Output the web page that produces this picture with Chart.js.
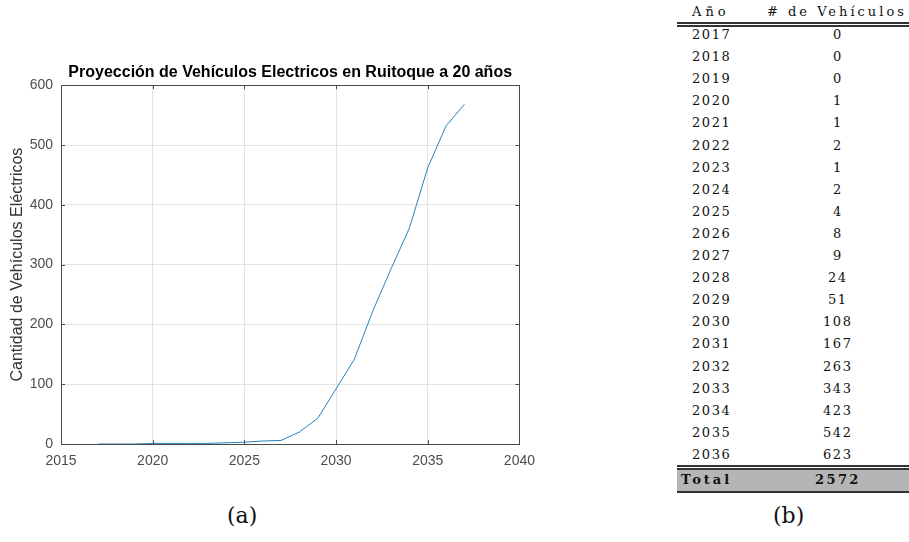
<!DOCTYPE html>
<html>
<head>
<meta charset="utf-8">
<script src="https://cdn.jsdelivr.net/npm/chart.js@4"></script>
<style>
  html, body { margin: 0; padding: 0; background: #fff; width: 909px; height: 542px; overflow: hidden; }
  #wrap { position: absolute; left: 0; top: 0; width: 544px; height: 475px; }
  .cap { position: absolute; font-family: "DejaVu Serif", "Liberation Serif", serif; font-size: 22px; color: #111; }
  .t { position: absolute; font-family: "DejaVu Serif", "Liberation Serif", serif; font-size: 13px; color: #111; letter-spacing: 1.6px; white-space: nowrap; line-height: 16px; }
  .rule { position: absolute; left: 677px; width: 232px; background: #333; }
  #totalbg { position: absolute; left: 677px; width: 232px; top: 468px; height: 23px; background: #b5b5b5; }
</style>
</head>
<body>
<div id="wrap"><canvas id="c" width="544" height="475"></canvas></div>
<div class="cap" style="left:227px; top:503px;">(a)</div>
<div class="cap" style="left:773px; top:503px;">(b)</div>
<div id="totalbg"></div>
<div class="rule" style="top:22px; height:1.5px;"></div>
<div class="rule" style="top:25px; height:1.5px;"></div>
<div class="rule" style="top:465px; height:1.5px;"></div>
<div class="rule" style="top:468px; height:1.5px;"></div>
<div class="rule" style="top:491px; height:1.5px;"></div>
<div id="table"></div>
<script>
// ---- Chart (a): projected electric vehicles ----
const years  = [2017, 2018, 2019, 2020, 2021, 2022, 2023, 2024, 2025, 2026, 2027,
                2028, 2029, 2030, 2031, 2032, 2033, 2034, 2035, 2036, 2037];
const vehicles = [0, 0, 0, 1, 1, 1, 1, 2, 3, 5, 6,
                  20, 43, 92, 142, 222, 293, 361, 462, 532, 568];
const xTicks = [2015, 2020, 2025, 2030, 2035, 2040];
const yTicks = [0, 100, 200, 300, 400, 500, 600];

// ---- Table (b) ----
const tableHeader = ["Año", "# de Vehículos"];
const tableYears  = [2017, 2018, 2019, 2020, 2021, 2022, 2023, 2024, 2025, 2026,
                     2027, 2028, 2029, 2030, 2031, 2032, 2033, 2034, 2035, 2036];
const tableCounts = [0, 0, 0, 1, 1, 2, 1, 2, 4, 8,
                     9, 24, 51, 108, 167, 263, 343, 423, 542, 623];
const totalLabel = "Total";
const totalCount = 2572;

const boxPlugin = {
  id: 'box',
  afterDraw(chart) {
    const a = chart.chartArea, ctx = chart.ctx;
    ctx.save();
    ctx.strokeStyle = '#4a4a4a';
    ctx.lineWidth = 1;
    ctx.strokeRect(Math.round(a.left) + 0.5, Math.round(a.top) + 0.5,
                   Math.round(a.right - a.left), Math.round(a.bottom - a.top));
    // inward tick marks (MATLAB style)
    const xs = chart.scales.x, ys = chart.scales.y;
    ctx.beginPath();
    xTicks.forEach(v => {
      const px = Math.round(xs.getPixelForValue(v)) + 0.5;
      ctx.moveTo(px, a.bottom); ctx.lineTo(px, a.bottom - 4);
      ctx.moveTo(px, a.top); ctx.lineTo(px, a.top + 4);
    });
    yTicks.forEach(v => {
      const py = Math.round(ys.getPixelForValue(v)) + 0.5;
      ctx.moveTo(a.left, py); ctx.lineTo(a.left + 4, py);
      ctx.moveTo(a.right, py); ctx.lineTo(a.right - 4, py);
    });
    ctx.stroke();
    ctx.restore();
  }
};

new Chart(document.getElementById('c'), {
  type: 'line',
  data: {
    datasets: [{
      data: years.map((y, i) => ({ x: y, y: vehicles[i] })),
      borderColor: '#2584bd',
      borderWidth: 1,
      pointRadius: 0,
      tension: 0,
      fill: false
    }]
  },
  options: {
    responsive: false,
    animation: false,
    devicePixelRatio: 1,
    layout: { padding: { left: 0, right: 21, top: 0, bottom: 0 } },
    plugins: {
      legend: { display: false },
      tooltip: { enabled: false },
      title: {
        display: true,
        fullSize: false,
        text: 'Proyección de Vehículos Electricos en Ruitoque a 20 años',
        color: '#000',
        font: { family: 'Liberation Sans, Arial, sans-serif', size: 16, weight: 'bold' },
        padding: { top: 63, bottom: 3 }
      }
    },
    scales: {
      x: {
        type: 'linear',
        min: 2015, max: 2040,
        afterBuildTicks(s) { s.ticks = xTicks.map(v => ({ value: v })); },
        afterFit(s) { s.height = 31; },
        ticks: {
          color: '#4d4d4d',
          font: { family: 'Liberation Sans, Arial, sans-serif', size: 14 },
          padding: 9,
          maxRotation: 0,
          callback: v => String(v)
        },
        grid: { color: '#e3e3e3', drawTicks: false },
        border: { display: false }
      },
      y: {
        min: 0, max: 600,
        afterBuildTicks(s) { s.ticks = yTicks.map(v => ({ value: v })); },
        afterFit(s) { s.width = 61; },
        ticks: {
          color: '#4d4d4d',
          font: { family: 'Liberation Sans, Arial, sans-serif', size: 14 },
          padding: 8
        },
        grid: { color: '#e3e3e3', drawTicks: false },
        border: { display: false },
        title: {
          display: true,
          text: 'Cantidad de Vehículos Eléctricos',
          color: '#333',
          font: { family: 'Liberation Sans, Arial, sans-serif', size: 16 },
          padding: { top: 8, bottom: 0 }
        }
      }
    }
  },
  plugins: [boxPlugin]
});

// Build table text from arrays
(function () {
  const host = document.getElementById('table');
  function put(text, x, yc, align, bold, spacing) {
    const d = document.createElement('div');
    d.className = 't';
    d.textContent = text;
    d.style.top = (yc - 8) + 'px';
    if (bold) d.style.fontWeight = 'bold';
    if (spacing !== undefined) d.style.letterSpacing = spacing + 'px';
    host.appendChild(d);
    if (align === 'center') {
      d.style.left = (x - d.offsetWidth / 2) + 'px';
    } else {
      d.style.left = x + 'px';
    }
  }
  put(tableHeader[0], 692, 12, 'left', false, 4);
  put(tableHeader[1], 767, 12, 'left', false, 3);
  tableYears.forEach((yr, i) => {
    const yc = 35 + i * 22.1;
    put(String(yr), 692, yc, 'left');
    put(String(tableCounts[i]), 838, yc, 'center');
  });
  put(totalLabel, 681, 480, 'left', true, 3);
  put(String(totalCount), 815, 480, 'left', true, 2.4);
})();
</script>
</body>
</html>
